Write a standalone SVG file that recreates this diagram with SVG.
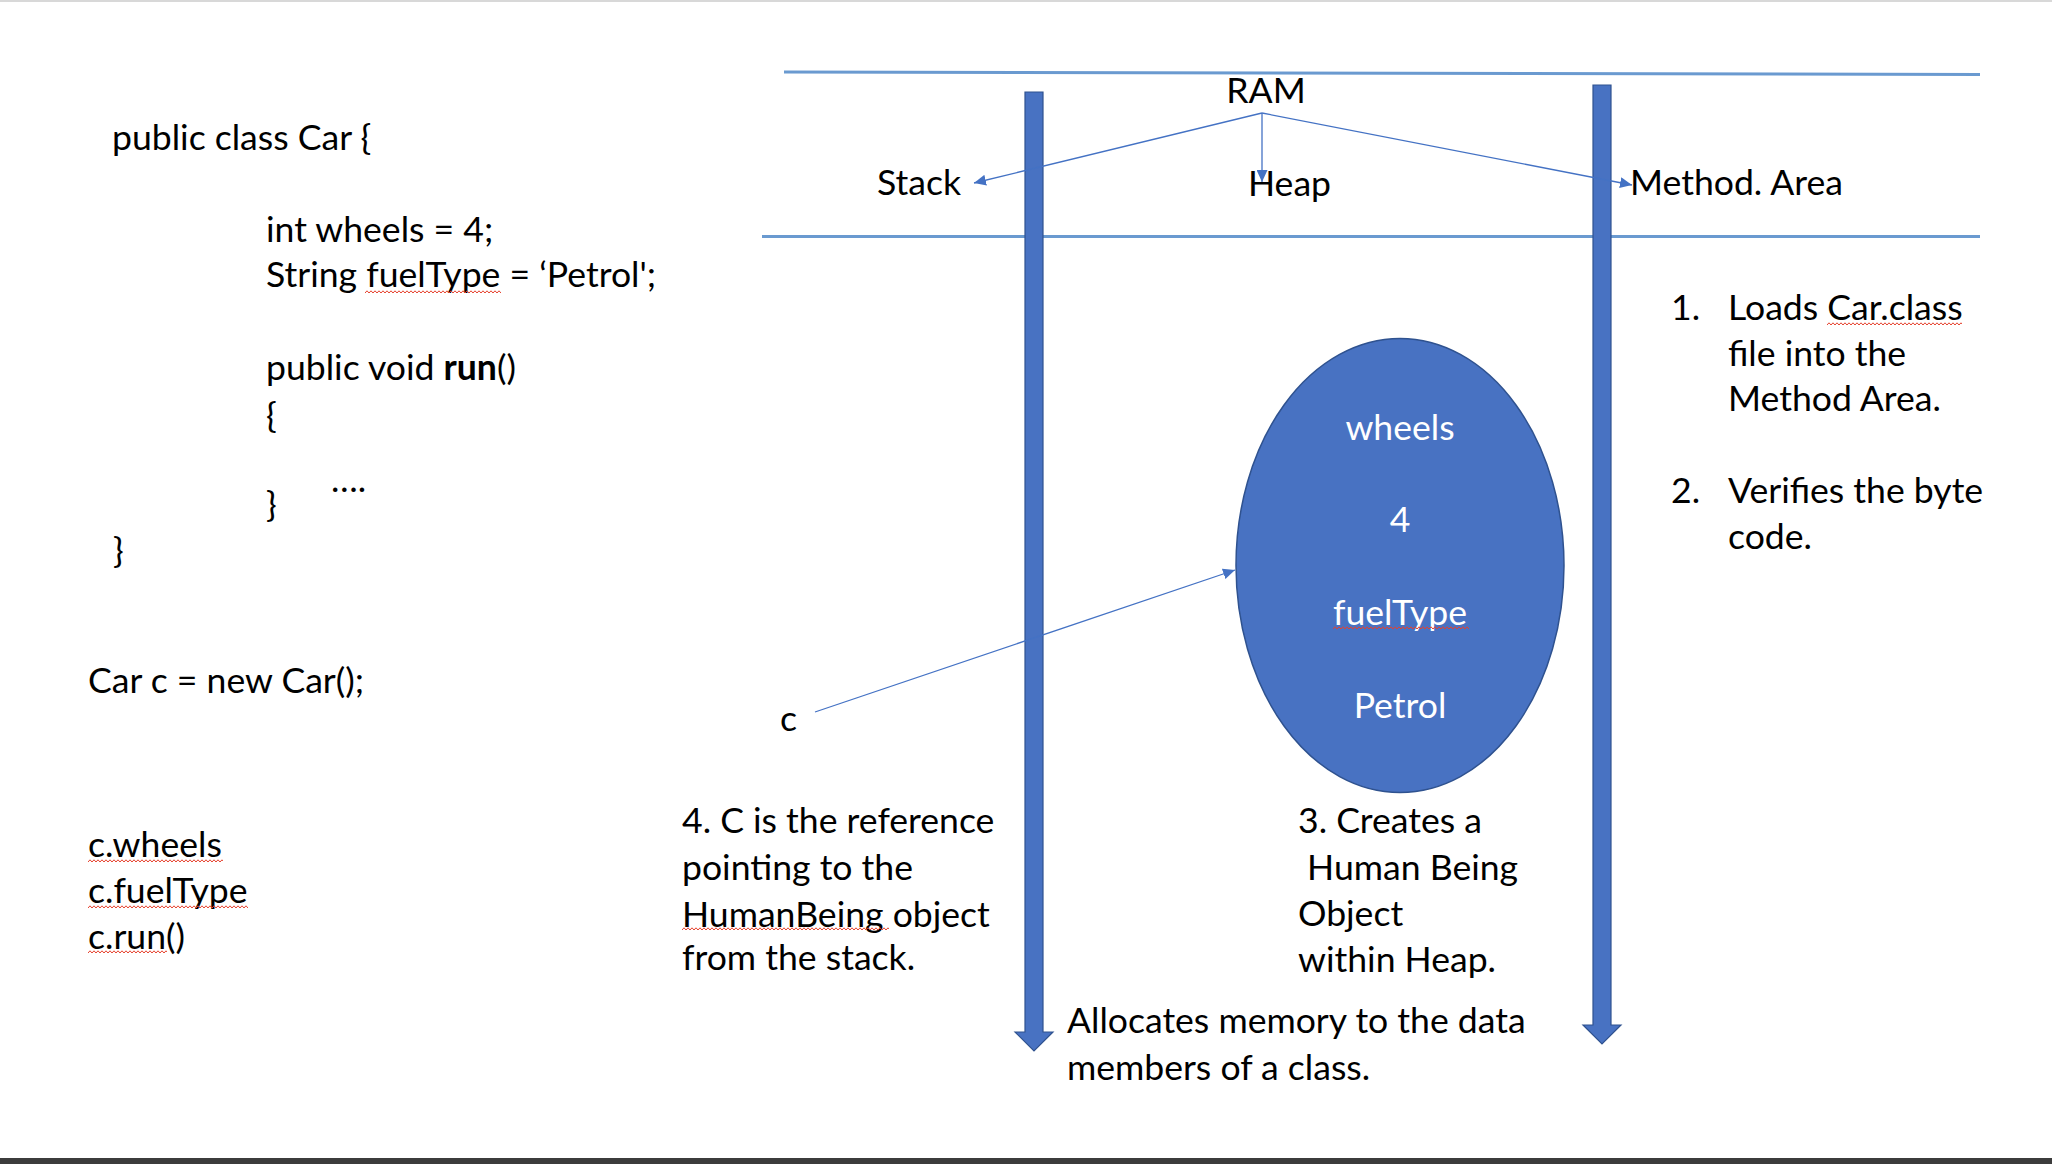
<svg xmlns="http://www.w3.org/2000/svg" width="2052" height="1164" viewBox="0 0 2052 1164">
  <style>
    .t { font-family: Lato, "Liberation Sans", "DejaVu Sans", sans-serif; font-size: 35.6px; fill: #000; }
    .w { fill: #fff; text-anchor: middle; }
    .conn { stroke: #4472C4; stroke-width: 1.3; fill: none; }
    .band { stroke: #6A9AD0; stroke-width: 3; fill: none; }
    .blk { fill: #4872C2; stroke: #2F528F; stroke-width: 1.2; }
  </style>
  <defs>
    <marker id="ah" markerUnits="userSpaceOnUse" markerWidth="13" markerHeight="11" refX="12" refY="5.5" orient="auto">
      <path d="M0,0 L12,5.5 L0,11 z" fill="#4472C4"/>
    </marker>
    <pattern id="sq" patternUnits="userSpaceOnUse" width="4" height="4">
      <path d="M0,3 L2,0.8 L4,3" stroke="#E5412D" stroke-width="1" fill="none"/>
    </pattern>
  </defs>

  <rect width="2052" height="1164" fill="#fff"/>
  <rect x="0" y="0" width="2052" height="2" fill="#D8D8D8"/>
  <rect x="0" y="1158" width="2052" height="6" fill="#3C3C3C"/>

  <!-- RAM bands -->
  <g id="ram-bands">
    <line class="band" x1="784" y1="72" x2="1980" y2="74.5"/>
    <line class="band" x1="762" y1="236.5" x2="1980" y2="236.5"/>
  </g>

  <!-- code -->
  <g id="code">
    <text class="t" x="112" y="150">public class Car {</text>
    <text class="t" x="266" y="242">int wheels = 4;</text>
    <text class="t" x="266" y="287">String fuelType = ‘Petrol';</text>
    <text class="t" x="266" y="380">public void <tspan font-weight="bold">run</tspan>()</text>
    <text class="t" x="266" y="428">{</text>
    <text class="t" x="331" y="492">….</text>
    <text class="t" x="266" y="517">}</text>
    <text class="t" x="113" y="563">}</text>
    <text class="t" x="88" y="693">Car c = new Car();</text>
    <text class="t" x="88" y="857">c.wheels</text>
    <text class="t" x="88" y="903">c.fuelType</text>
    <text class="t" x="88" y="949">c.run()</text>
  </g>

  <!-- stack column arrow -->
  <g id="stack-column">
    <path class="blk" d="M1025,92 L1043,92 L1043,1032 L1053,1032 L1034,1051 L1015,1032 L1025,1032 z"/>
  </g>
  <!-- method area column arrow -->
  <g id="method-column">
    <path class="blk" d="M1593,85 L1611,85 L1611,1025 L1621,1025 L1602,1044 L1583,1025 L1593,1025 z"/>
  </g>

  <g id="ram"><text class="t" x="1266" y="103" text-anchor="middle">RAM</text></g>
  <g id="stack"><text class="t" x="877" y="195">Stack</text></g>
  <g id="heap"><text class="t" x="1248" y="196">Heap</text></g>
  <g id="method-area"><text class="t" x="1630" y="195">Method. Area</text></g>

  <!-- heap object -->
  <g id="heap-object">
    <ellipse cx="1400" cy="565.5" rx="164" ry="227" fill="#4872C2" stroke="#2F528F" stroke-width="1.5"/>
    <text class="t w" x="1400" y="440">wheels</text>
    <text class="t w" x="1400" y="532">4</text>
    <text class="t w" x="1400" y="625">fuelType</text>
    <text class="t w" x="1400" y="718">Petrol</text>
  </g>

  <g id="ref-c"><text class="t" x="780" y="731">c</text></g>

  <!-- notes -->
  <g id="note-method-area">
    <text class="t" x="1671" y="320">1.</text>
    <text class="t" x="1728" y="320">Loads Car.class</text>
    <text class="t" x="1728" y="366">file into the</text>
    <text class="t" x="1728" y="411">Method Area.</text>
    <text class="t" x="1671" y="503">2.</text>
    <text class="t" x="1728" y="503">Verifies the byte</text>
    <text class="t" x="1728" y="549">code.</text>
  </g>
  <g id="note-heap">
    <text class="t" x="1298" y="833">3. Creates a</text>
    <text class="t" x="1298" y="880" xml:space="preserve"> Human Being</text>
    <text class="t" x="1298" y="926">Object</text>
    <text class="t" x="1298" y="972">within Heap.</text>
  </g>
  <g id="note-stack">
    <text class="t" x="682" y="833">4. C is the reference</text>
    <text class="t" x="682" y="880">pointing to the</text>
    <text class="t" x="682" y="927">HumanBeing object</text>
    <text class="t" x="682" y="970">from the stack.</text>
  </g>
  <g id="note-allocate">
    <text class="t" x="1067" y="1033">Allocates memory to the data</text>
    <text class="t" x="1067" y="1080">members of a class.</text>
  </g>

  <!-- spell-check squiggles -->
  <g id="squiggles">
    <g transform="translate(365,290)"><rect width="136" height="4" fill="url(#sq)"/></g>
    <g transform="translate(1827,322)"><rect width="135" height="4" fill="url(#sq)"/></g>
    <g transform="translate(1333,626)"><rect width="136" height="4" fill="url(#sq)"/></g>
    <g transform="translate(682,927)"><rect width="207" height="4" fill="url(#sq)"/></g>
    <g transform="translate(88,859)"><rect width="135" height="4" fill="url(#sq)"/></g>
    <g transform="translate(88,905)"><rect width="160" height="4" fill="url(#sq)"/></g>
    <g transform="translate(88,950)"><rect width="79" height="4" fill="url(#sq)"/></g>
  </g>

  <!-- connectors -->
  <g id="connectors">
    <line class="conn" x1="1262" y1="113" x2="974" y2="183" marker-end="url(#ah)"/>
    <line class="conn" x1="1262" y1="113" x2="1262" y2="182" marker-end="url(#ah)"/>
    <line class="conn" x1="1262" y1="113" x2="1632" y2="185" marker-end="url(#ah)"/>
    <line class="conn" x1="815" y1="712" x2="1235" y2="570" marker-end="url(#ah)"/>
  </g>
</svg>
